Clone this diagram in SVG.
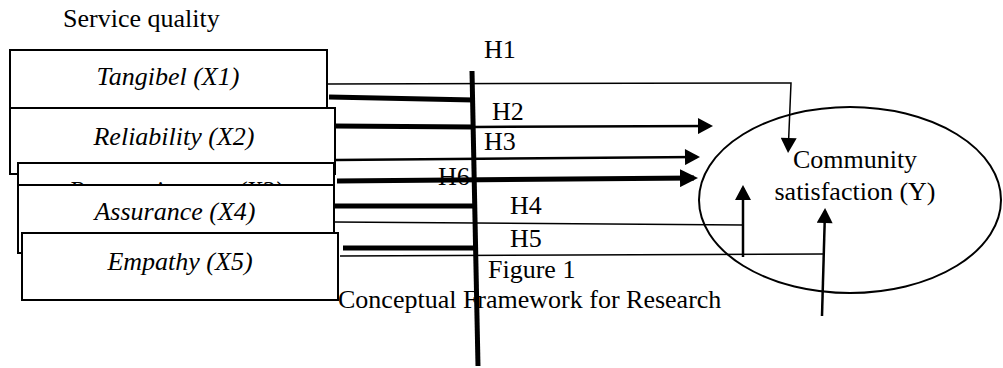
<svg xmlns="http://www.w3.org/2000/svg" width="1003" height="368" viewBox="0 0 1003 368">
<style>
text{font-family:"Liberation Serif","Times New Roman",serif;font-size:26px;fill:#000}
.it{font-style:italic;text-anchor:middle}
.box{fill:#fff;stroke:#000;stroke-width:2}
.thin{stroke:#000;stroke-width:1.5;fill:none}
.mid{stroke:#000;stroke-width:2.5;fill:none}
.thick{stroke:#000;stroke-width:5;fill:none}
</style>
<defs>
<marker id="ah" markerUnits="userSpaceOnUse" markerWidth="16" markerHeight="16" refX="12" refY="8" orient="auto" viewBox="0 0 15 16">
<path d="M0,0 L15,8 L0,16 z" fill="#000"/>
</marker>
<marker id="ahb" markerUnits="userSpaceOnUse" markerWidth="18" markerHeight="18" refX="14" refY="9" orient="auto" viewBox="0 0 18 18">
<path d="M0,0 L18,9 L0,18 z" fill="#000"/>
</marker>
</defs>
<rect width="1003" height="368" fill="#fff"/>
<text x="63" y="27">Service quality</text>
<g id="tangibel"><rect class="box" x="10" y="50" width="317" height="58"/><text class="it" x="168" y="85">Tangibel (X1)</text></g>
<g id="reliability"><rect class="box" x="10" y="108" width="325" height="66"/><text class="it" x="174" y="145">Reliability (X2)</text></g>
<g id="responsiveness"><rect class="box" x="18" y="163" width="316" height="70"/><text class="it" x="176" y="199">Responsiveness (X3)</text></g>
<g id="assurance"><rect class="box" x="18" y="185" width="316" height="68"/><text class="it" x="175" y="220">Assurance (X4)</text></g>
<g id="empathy"><rect class="box" x="22" y="233" width="316" height="67"/><text class="it" x="180" y="270">Empathy (X5)</text></g>
<g id="satisfaction"><ellipse cx="850" cy="200" rx="151" ry="93" fill="none" stroke="#000" stroke-width="2"/><text x="855" y="168" text-anchor="middle">Community</text><text x="855" y="200" text-anchor="middle">satisfaction (Y)</text></g>
<g id="labels">
<text x="484" y="58">H1</text>
<text x="492" y="120">H2</text>
<text x="484" y="150">H3</text>
<text x="438" y="185">H6</text>
<text x="510" y="214">H4</text>
<text x="510" y="247">H5</text>
<text x="488" y="278">Figure 1</text>
<text x="338" y="308">Conceptual Framework for Research</text>
</g>
<g id="connectors">
<polyline class="thin" points="327,84 791,83 788.2,150" marker-end="url(#ah)"/>
<line class="thick" x1="329" y1="97" x2="474" y2="100"/>
<line class="thick" x1="334" y1="126" x2="474" y2="127"/>
<line class="mid" x1="474" y1="127" x2="710" y2="126" marker-end="url(#ah)"/>
<line class="mid" x1="336" y1="160" x2="697" y2="157" marker-end="url(#ah)"/>
<line class="thick" x1="337" y1="181" x2="694" y2="178" marker-end="url(#ahb)"/>
<line class="thick" x1="335" y1="206" x2="474" y2="206"/>
<line class="thin" x1="335" y1="222" x2="743" y2="225"/>
<line class="mid" x1="743" y1="257" x2="743" y2="188" marker-end="url(#ah)"/>
<line class="thick" x1="343" y1="248" x2="476" y2="248"/>
<line class="thin" x1="340" y1="256" x2="823" y2="254"/>
<line class="mid" x1="822" y1="316" x2="825" y2="211" marker-end="url(#ah)"/>
<line class="thick" x1="472" y1="71" x2="478" y2="366"/>
</g>
</svg>
